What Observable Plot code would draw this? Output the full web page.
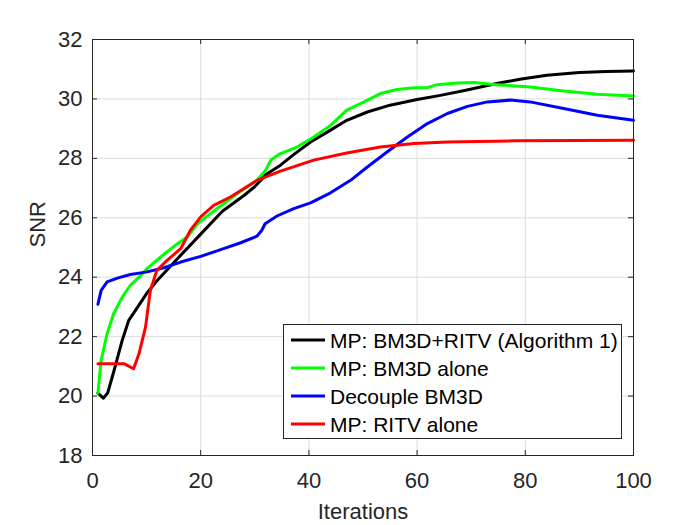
<!DOCTYPE html>
<html>
<head>
<meta charset="utf-8">
<script src="https://cdn.jsdelivr.net/npm/d3@7"></script>
<script src="https://cdn.jsdelivr.net/npm/@observablehq/plot@0.6"></script>
<style>
  html, body { margin: 0; padding: 0; background: #fff; }
  #chart { width: 700px; height: 525px; }
</style>
</head>
<body>
<div id="chart"></div>
<script>
const xTicks = [0, 20, 40, 60, 80, 100];
const yTicks = [18, 20, 22, 24, 26, 28, 30, 32];
const xLabel = "Iterations";
const yLabel = "SNR";

const seriesNames = ["MP: BM3D+RITV (Algorithm 1)", "MP: BM3D alone", "Decouple BM3D", "MP: RITV alone"];
const seriesColors = ["#000000", "#00ff00", "#0000ff", "#ff0000"];

const blackX = [1, 2, 2.8, 4, 5.5, 6.7, 8, 10, 12, 16, 20, 24, 28, 30, 31.3, 32, 34.75, 37, 40.3, 44, 47, 50.8, 55, 60, 64.3, 69, 74.7, 79, 84, 90, 95, 100];
const blackY = [20.1, 19.93, 20.1, 20.87, 21.88, 22.55, 22.9, 23.45, 23.9, 24.68, 25.45, 26.22, 26.75, 27.05, 27.3, 27.45, 27.77, 28.1, 28.55, 28.95, 29.28, 29.56, 29.79, 29.98, 30.12, 30.29, 30.52, 30.66, 30.8, 30.89, 30.92, 30.94];

const greenX = [1, 1.6, 2.7, 3.9, 5.5, 7, 8.6, 10.1, 12.6, 15.7, 17.5, 19.4, 21.8, 24.3, 26.7, 30.4, 32, 33, 34.75, 37.8, 40.9, 44, 47, 50.2, 53.2, 56.3, 59.4, 61.9, 63.7, 67.4, 70.5, 74.7, 80.9, 87.1, 93.3, 100];
const greenY = [20.1, 21.2, 22.1, 22.77, 23.33, 23.73, 24.0, 24.29, 24.68, 25.13, 25.35, 25.8, 26.14, 26.48, 26.81, 27.26, 27.6, 27.95, 28.16, 28.38, 28.72, 29.11, 29.62, 29.9, 30.18, 30.32, 30.38, 30.38, 30.48, 30.54, 30.55, 30.48, 30.4, 30.27, 30.16, 30.1];

const blueX = [1, 1.6, 2.7, 4.6, 7, 10.1, 13.2, 16.3, 20, 23.7, 27.4, 30.4, 31.3, 31.9, 34.1, 37.2, 40.3, 44, 47.7, 50.8, 54.5, 58.2, 61.9, 65.6, 69.3, 73, 77.2, 80.9, 87.1, 93.3, 100];
const blueY = [23.09, 23.56, 23.84, 23.97, 24.09, 24.18, 24.32, 24.51, 24.7, 24.93, 25.16, 25.38, 25.58, 25.8, 26.06, 26.31, 26.5, 26.84, 27.26, 27.71, 28.22, 28.72, 29.17, 29.51, 29.75, 29.9, 29.96, 29.9, 29.68, 29.45, 29.28];

const redX = [1, 3, 5.8, 7.6, 8.6, 9.8, 10.7, 11.9, 13.8, 16.3, 18.1, 20, 22.4, 25.5, 30.4, 34.75, 40.9, 47, 53.2, 59.4, 65.6, 77.9, 90, 100];
const redY = [21.09, 21.09, 21.09, 20.92, 21.43, 22.32, 23.56, 24.23, 24.57, 24.96, 25.58, 26.03, 26.42, 26.7, 27.26, 27.57, 27.94, 28.18, 28.38, 28.5, 28.55, 28.59, 28.6, 28.61];

const seriesXs = [blackX, greenX, blueX, redX];
const seriesYs = [blackY, greenY, blueY, redY];

const data = seriesNames.flatMap((name, k) =>
  seriesXs[k].map((x, i) => ({series: name, x, y: seriesYs[k][i]}))
);

const W = 700, H = 525;
const mL = 92, mR = 67, mT = 39, mB = 70;
const plotW = W - mL - mR, plotH = H - mT - mB;
const tickLen = 5;
const axisColor = "#262626";
const font = "'Liberation Sans', Arial, Helvetica, sans-serif";

const chart = Plot.plot({
  width: W, height: H,
  marginLeft: mL, marginRight: mR, marginTop: mT, marginBottom: mB,
  x: {domain: [0, 100]},
  y: {domain: [18, 32]},
  color: {domain: seriesNames, range: seriesColors},
  style: {fontFamily: font, fontSize: "22px", color: axisColor, background: "#fff", overflow: "visible"},
  marks: [
    Plot.gridX(xTicks, {stroke: "#dcdcdc", strokeOpacity: 1, strokeWidth: 1}),
    Plot.gridY(yTicks, {stroke: "#dcdcdc", strokeOpacity: 1, strokeWidth: 1}),
    Plot.tickX(xTicks, {x: d => d, insetTop: plotH - tickLen, stroke: axisColor}),
    Plot.tickX(xTicks, {x: d => d, insetBottom: plotH - tickLen, stroke: axisColor}),
    Plot.tickY(yTicks, {y: d => d, insetRight: plotW - tickLen, stroke: axisColor}),
    Plot.tickY(yTicks, {y: d => d, insetLeft: plotW - tickLen, stroke: axisColor}),
    Plot.axisX(xTicks, {tickSize: 0, tickPadding: 17, label: null, fontSize: 22, fill: axisColor}),
    Plot.axisY(yTicks, {tickSize: 0, tickPadding: 10, label: null, fontSize: 22, fill: axisColor}),
    Plot.line(data, {x: "x", y: "y", z: "series", stroke: "series", strokeWidth: 3, strokeLinejoin: "round", strokeLinecap: "round"}),
    Plot.frame({stroke: axisColor, strokeWidth: 1}),
    Plot.text([xLabel], {frameAnchor: "bottom", dy: 56, text: d => d, fontSize: 22, fill: axisColor, lineAnchor: "middle"}),
    Plot.text([yLabel], {frameAnchor: "left", dx: -55, rotate: -90, text: d => d, fontSize: 22, fill: axisColor, lineAnchor: "middle"})
  ]
});

document.getElementById("chart").appendChild(chart);

// Legend box (MATLAB style, inside the axes, lower right)
const svg = d3.select(chart);
const lg = svg.append("g").attr("font-family", font).attr("font-size", 21).attr("text-anchor", "start");
const boxX = 283.5, boxY = 324.5, boxW = 338, boxH = 114, rowH = 28, row0 = 340;
lg.append("rect").attr("x", boxX).attr("y", boxY).attr("width", boxW).attr("height", boxH)
  .attr("fill", "#fff").attr("stroke", axisColor).attr("stroke-width", 1);
seriesNames.forEach((name, i) => {
  const yy = row0 + i * rowH;
  lg.append("line").attr("x1", 291).attr("x2", 325).attr("y1", yy).attr("y2", yy)
    .attr("stroke", seriesColors[i]).attr("stroke-width", 3);
  lg.append("text").attr("x", 330).attr("y", yy).attr("dy", "0.36em")
    .attr("text-anchor", "start").attr("fill", "#000").text(name);
});
</script>
</body>
</html>
